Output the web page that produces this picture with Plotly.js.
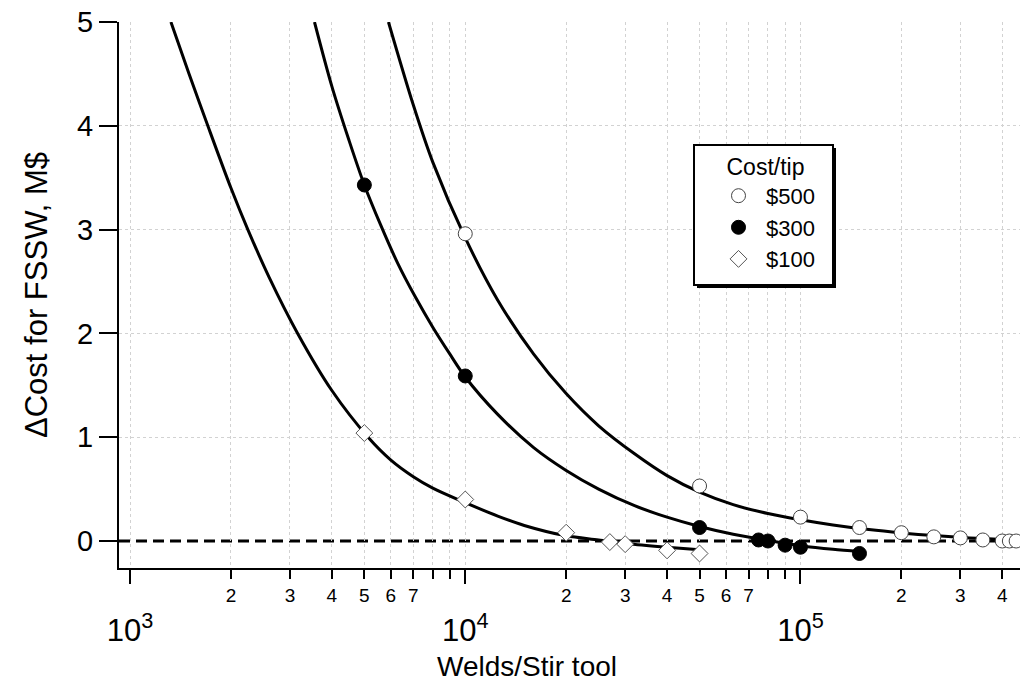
<!DOCTYPE html>
<html>
<head>
<meta charset="utf-8">
<script src="https://cdn.plot.ly/plotly-3.0.1.min.js"></script>
<style>html,body{margin:0;padding:0;background:#fff;}#chart{width:1020px;height:683px;}</style>
</head>
<body>
<div id="chart"></div>
<script>
// ---- Data ----
var seriesNames = ["$500", "$300", "$100"];

// Data points (markers)
var x500 = [1e4, 5e4, 1e5, 1.5e5, 2e5, 2.5e5, 3e5, 3.5e5, 4e5, 4.2e5, 4.4e5];
var y500 = [2.96, 0.53, 0.23, 0.13, 0.08, 0.04, 0.03, 0.01, 0.0, 0.0, 0.0];

var x300 = [5e3, 1e4, 5e4, 7.5e4, 8e4, 9e4, 1e5, 1.5e5];
var y300 = [3.43, 1.59, 0.13, 0.01, 0.0, -0.04, -0.06, -0.12];

var x100 = [5e3, 1e4, 2e4, 2.7e4, 3e4, 4e4, 5e4];
var y100 = [1.04, 0.40, 0.08, -0.01, -0.03, -0.09, -0.12];

// Fitted curves
var cx500 = [5900, 7000, 8000, 1e4, 1.25e4, 1.6e4, 2e4, 2.5e4, 3.2e4, 4e4, 5e4, 6.3e4, 8e4, 1e5, 1.25e5, 1.6e5, 2e5, 2.5e5, 3.2e5, 4e5, 4.5e5];
var cy500 = [5.0, 4.2, 3.65, 2.92, 2.32, 1.8, 1.42, 1.11, 0.84, 0.63, 0.47, 0.35, 0.265, 0.205, 0.155, 0.11, 0.078, 0.052, 0.03, 0.015, 0.008];

var cx300 = [3550, 4000, 4500, 5000, 5600, 6300, 7100, 8000, 9000, 1e4, 1.25e4, 1.6e4, 2e4, 2.5e4, 3.2e4, 4e4, 5e4, 6.3e4, 8e4, 1e5, 1.25e5, 1.5e5];
var cy300 = [5.0, 4.38, 3.86, 3.43, 3.04, 2.67, 2.35, 2.06, 1.80, 1.58, 1.22, 0.9, 0.68, 0.5, 0.34, 0.23, 0.14, 0.065, 0.005, -0.045, -0.08, -0.10];

var cx100 = [1324, 1500, 1706, 2000, 2246, 2600, 3162, 4000, 5130, 6000, 7000, 8000, 1e4, 1.25e4, 1.5e4, 2e4, 2.5e4, 3e4, 4e4, 5e4];
var cy100 = [5.0, 4.5, 4.0, 3.4, 3.0, 2.54, 2.0, 1.45, 1.0, 0.78, 0.62, 0.51, 0.37, 0.24, 0.15, 0.05, 0.01, -0.025, -0.06, -0.085];

// Axis ticks
var majorTicks = [1e3, 1e4, 1e5];
var majorText = ["10<sup>3</sup>", "10<sup>4</sup>", "10<sup>5</sup>"];
var minorDigits = ["", "2", "3", "4", "5", "6", "7", "", ""];
var yTicks = [0, 1, 2, 3, 4, 5];
var yGrid = [1, 2, 3, 4, 5];

// ---- Build ----
var FONT = "Liberation Sans, Arial, Helvetica, sans-serif";
var minorVals = [], minorText = [];
majorTicks.forEach(function (dec) {
  for (var i = 1; i <= 9; i++) {
    minorVals.push(dec * i);
    minorText.push(minorDigits[i - 1]);
  }
});

var lineStyle = {color: "#000", width: 3, shape: "spline", smoothing: 0.9};

var traces = [
  {x: cx500, y: cy500, mode: "lines", line: lineStyle, showlegend: false, hoverinfo: "skip"},
  {x: cx300, y: cy300, mode: "lines", line: lineStyle, showlegend: false, hoverinfo: "skip"},
  {x: cx100, y: cy100, mode: "lines", line: lineStyle, showlegend: false, hoverinfo: "skip"},
  {x: x500, y: y500, mode: "markers", name: seriesNames[0],
   marker: {symbol: "circle", size: 14, color: "#fff", line: {color: "#444", width: 1}}},
  {x: x300, y: y300, mode: "markers", name: seriesNames[1],
   marker: {symbol: "circle", size: 14, color: "#000", line: {color: "#000", width: 1}}},
  {x: x100, y: y100, mode: "markers", name: seriesNames[2],
   marker: {symbol: "diamond", size: 13, color: "#fff", line: {color: "#555", width: 1}}},
  // invisible trace to carry the major-decade axis and the grid-only y axis
  {x: majorTicks, y: [null, null, null], xaxis: "x2", yaxis: "y2", mode: "markers", showlegend: false, hoverinfo: "skip"}
];

var plotL = 119, plotR = 1020, plotT = 22, plotB = 568;
var pw = plotR - plotL, ph = plotB - plotT;
function px(x) { return (x - plotL) / pw; }
function py(y) { return (plotB - y) / ph; }

var xr = [2.967, 5.655];
var yr = [-0.26, 5.0];

var layout = {
  width: 1020, height: 683,
  margin: {l: plotL, r: 1020 - plotR, t: plotT, b: 683 - plotB},
  paper_bgcolor: "#fff", plot_bgcolor: "#fff",
  font: {family: FONT, color: "#000"},
  showlegend: true,
  xaxis: {
    type: "log", range: xr,
    tickmode: "array", tickvals: minorVals, ticktext: minorText,
    ticks: "outside", ticklen: 9, tickwidth: 2, tickcolor: "#000",
    tickfont: {size: 19, family: FONT},
    showline: true, linewidth: 2, linecolor: "#000",
    showgrid: true, gridcolor: "#d2d2d2", gridwidth: 1, griddash: "dot",
    zeroline: false
  },
  xaxis2: {
    type: "log", range: xr, overlaying: "x", anchor: "y2", side: "bottom",
    tickmode: "array", tickvals: majorTicks, ticktext: majorText,
    ticks: "outside", ticklen: 15, tickwidth: 2, tickcolor: "#000",
    tickfont: {size: 31, family: FONT}, ticklabelstandoff: 20,
    showline: false, showgrid: false, zeroline: false
  },
  yaxis: {
    range: yr,
    tickmode: "array", tickvals: yTicks,
    ticks: "outside", ticklen: 18, tickwidth: 2, tickcolor: "#000",
    tickfont: {size: 29, family: FONT},
    showline: true, linewidth: 2, linecolor: "#000",
    showgrid: false,
    zeroline: false,
    title: {text: "\u0394Cost for FSSW, M$", font: {size: 31, family: FONT}, standoff: 20}
  },
  yaxis2: {
    range: yr, overlaying: "y", anchor: "x2", side: "left",
    tickmode: "array", tickvals: yGrid, ticks: "", showticklabels: false,
    showline: false, zeroline: false,
    showgrid: true, gridcolor: "#d2d2d2", gridwidth: 1, griddash: "dot"
  },
  annotations: [
    {text: "Welds/Stir tool", xref: "paper", yref: "paper", x: px(527), y: py(666),
     xanchor: "center", yanchor: "middle", showarrow: false,
     font: {size: 28, family: FONT, color: "#000"}}
  ],
  shapes: [
    {type: "line", xref: "x domain", yref: "y", x0: 0, x1: 1, y0: 0, y1: 0,
     line: {color: "#000", width: 3, dash: "11px,6px"}, layer: "below"},
    // legend box shadow and box
    {type: "rect", xref: "paper", yref: "paper", x0: px(697), x1: px(836), y0: py(288), y1: py(148),
     fillcolor: "#000", line: {width: 0}, layer: "above"},
    {type: "rect", xref: "paper", yref: "paper", x0: px(694), x1: px(833), y0: py(285), y1: py(145),
     fillcolor: "#fff", line: {color: "#000", width: 2}, layer: "above"}
  ],
  legend: {
    x: px(711), y: py(145), xanchor: "left", yanchor: "top",
    bgcolor: "rgba(0,0,0,0)", borderwidth: 0,
    font: {size: 22, family: FONT},
    title: {text: "Cost/tip", font: {size: 23, family: FONT}, side: "top center"},
    itemwidth: 45
  }
};

Plotly.newPlot("chart", traces, layout, {displayModeBar: false, staticPlot: true});
</script>
</body>
</html>
